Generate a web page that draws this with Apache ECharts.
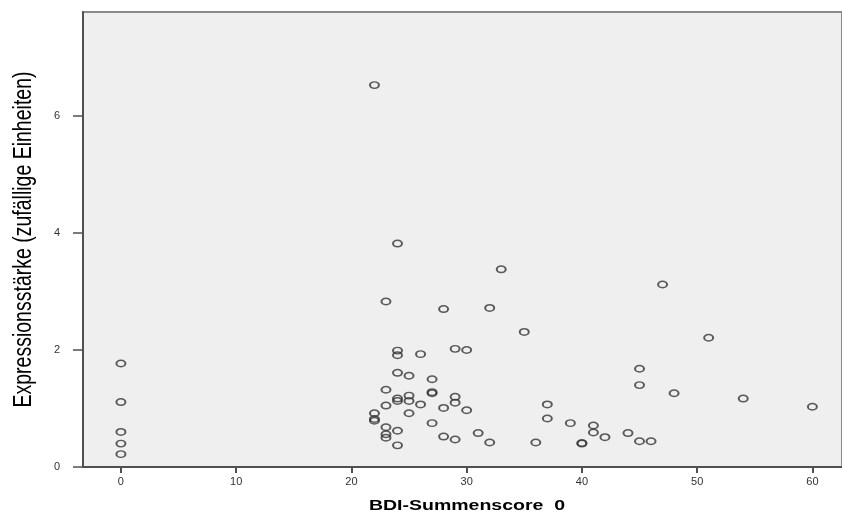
<!DOCTYPE html>
<html>
<head>
<meta charset="utf-8">
<script src="https://cdn.jsdelivr.net/npm/echarts@6/dist/echarts.min.js"></script>
<style>
  html, body { margin: 0; padding: 0; background: #fff; }
  #chart { width: 842px; height: 512px; }
</style>
</head>
<body>
<div id="chart"></div>
<script>
// BDI-Summenscore (x) und Expressionsstärke (y)
var bdiScore = [
  0, 0, 0, 0, 0,
  22, 22, 22, 22,
  23, 23, 23, 23, 23, 23,
  24, 24, 24, 24, 24, 24, 24, 24,
  25, 25, 25, 25,
  26, 26,
  27, 27, 27, 27,
  28, 28, 28,
  29, 29, 29, 29,
  30, 30,
  31,
  32, 32,
  33,
  35,
  36,
  37, 37,
  39,
  40, 40,
  41, 41,
  42,
  44,
  45, 45, 45,
  46,
  47,
  48,
  51,
  54,
  60
];
var expression = [
  1.77, 1.11, 0.60, 0.40, 0.22,
  6.53, 0.92, 0.82, 0.79,
  2.83, 1.32, 1.05, 0.68, 0.56, 0.50,
  3.82, 1.99, 1.91, 1.61, 1.17, 1.13, 0.62, 0.37,
  1.56, 1.22, 1.13, 0.92,
  1.93, 1.07,
  1.50, 1.28, 1.26, 0.75,
  2.70, 1.01, 0.52,
  2.02, 1.20, 1.10, 0.47,
  2.00, 0.97,
  0.58,
  2.72, 0.42,
  3.38,
  2.31,
  0.42,
  1.07, 0.83,
  0.75,
  0.41, 0.40,
  0.71, 0.59,
  0.51,
  0.58,
  1.68, 1.40, 0.44,
  0.44,
  3.12,
  1.26,
  2.21,
  1.17,
  1.03
];
var xTicks = [0, 10, 20, 30, 40, 50, 60];
var yTicks = [0, 2, 4, 6];

var points = bdiScore.map(function (x, i) { return [x, expression[i]]; });

var myChart = echarts.init(document.getElementById('chart'));
myChart.setOption({
  animation: false,
  backgroundColor: '#ffffff',
  textStyle: { fontFamily: 'Liberation Sans' },
  grid: {
    left: 83,
    top: 12,
    right: -2,
    bottom: 45,
    show: true,
    backgroundColor: '#efefef',
    borderColor: '#8a8a8a',
    borderWidth: 2
  },
  xAxis: {
    type: 'value',
    min: -3.29,
    max: 62.57,
    splitLine: { show: false },
    axisLine: { show: true, onZero: false, lineStyle: { color: '#505050', width: 2 } },
    axisTick: { show: true, customValues: xTicks, length: 6, lineStyle: { color: '#505050', width: 2 } },
    axisLabel: { customValues: xTicks, color: '#333', fontSize: 11, margin: 9 }
  },
  yAxis: {
    type: 'value',
    min: 0,
    max: 7.78,
    splitLine: { show: false },
    axisLine: { show: true, onZero: false, lineStyle: { color: '#505050', width: 2 } },
    axisTick: { show: true, customValues: yTicks, length: 10, lineStyle: { color: '#505050', width: 1.5 } },
    axisLabel: { customValues: yTicks, color: '#333', fontSize: 11, margin: 23 }
  },
  graphic: [
    {
      type: 'text',
      x: 24,
      y: 239.5,
      rotation: Math.PI / 2,
      scaleX: 0.75,
      style: {
        text: 'Expressionsstärke (zufällige Einheiten)',
        font: '26px "Liberation Sans"',
        fill: '#000',
        align: 'center',
        verticalAlign: 'middle'
      }
    },
    {
      type: 'text',
      x: 467,
      y: 506,
      scaleX: 1.3,
      style: {
        text: 'BDI-Summenscore  0',
        font: 'bold 15px "Liberation Sans"',
        fill: '#000',
        align: 'center',
        verticalAlign: 'middle'
      }
    }
  ],
  series: [
    {
      type: 'scatter',
      data: points,
      symbol: 'circle',
      symbolSize: [9, 6.5],
      itemStyle: {
        color: 'rgba(0,0,0,0)',
        borderColor: '#333333',
        borderWidth: 1.7
      },
      emphasis: { disabled: true }
    }
  ]
});
</script>
</body>
</html>
